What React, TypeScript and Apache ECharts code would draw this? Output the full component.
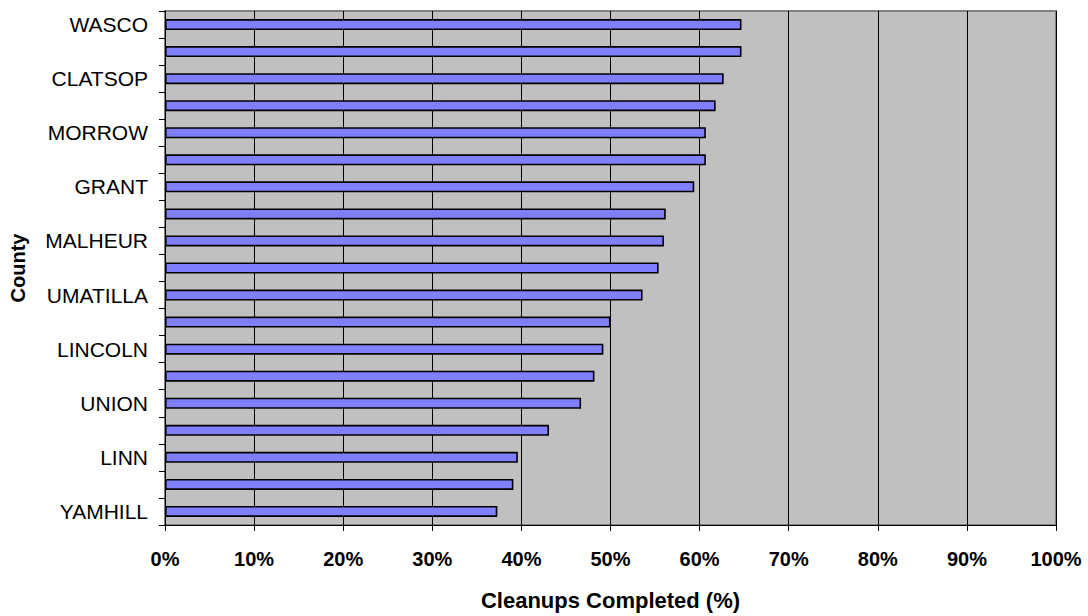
import React, { useEffect, useRef } from "react";
import * as echarts from "echarts";

const counties: string[] = [
  "WASCO", "", "CLATSOP", "", "MORROW", "", "GRANT", "", "MALHEUR", "",
  "UMATILLA", "", "LINCOLN", "", "UNION", "", "LINN", "", "YAMHILL",
];
const completedPct: number[] = [
  64.7, 64.7, 62.7, 61.8, 60.7, 60.7, 59.4, 56.2, 56.0, 55.4,
  53.6, 50.0, 49.2, 48.2, 46.7, 43.1, 39.6, 39.1, 37.3,
];
const xTicks: number[] = [0, 10, 20, 30, 40, 50, 60, 70, 80, 90, 100];

export default function App() {
  const ref = useRef<HTMLDivElement>(null);
  useEffect(() => {
    if (!ref.current) return;
    const chart = echarts.init(ref.current, undefined, { renderer: "svg" });
    const font = "Liberation Sans, Arial, sans-serif";
    chart.setOption({
      animation: false,
      backgroundColor: "#ffffff",
      grid: {
        left: 163,
        right: 32,
        top: 11,
        bottom: 87,
        show: true,
        backgroundColor: "#C0C0C0",
        borderColor: "#808080",
        borderWidth: 2,
        containLabel: false,
      },
      xAxis: {
        type: "value",
        min: xTicks[0],
        max: xTicks[xTicks.length - 1],
        interval: 10,
        name: "Cleanups Completed (%)",
        nameLocation: "middle",
        nameGap: 64,
        nameTextStyle: { fontFamily: font, fontWeight: "bold", fontSize: 22, color: "#000" },
        axisLine: { show: true, lineStyle: { color: "#000", width: 1 } },
        axisTick: { show: true, length: 6, lineStyle: { color: "#000" } },
        axisLabel: {
          formatter: (v: number) => `${v}%`,
          fontFamily: font,
          fontWeight: "bold",
          fontSize: 20,
          color: "#000",
          margin: 24,
        },
        splitLine: { show: true, lineStyle: { color: "#000", width: 1 } },
      },
      yAxis: {
        type: "category",
        data: counties,
        inverse: true,
        name: "County",
        nameLocation: "middle",
        nameGap: 137,
        nameTextStyle: { fontFamily: font, fontWeight: "bold", fontSize: 20, color: "#000" },
        axisLine: { show: true, lineStyle: { color: "#000", width: 1 } },
        axisTick: { show: true, length: 6, interval: 0, lineStyle: { color: "#000" } },
        axisLabel: {
          interval: 0,
          fontFamily: font,
          fontSize: 21,
          color: "#000",
          margin: 17,
        },
        splitLine: { show: false },
      },
      series: [
        {
          type: "bar",
          data: completedPct,
          barWidth: 11,
          itemStyle: { color: "#8080FF", borderColor: "#000", borderWidth: 1.6 },
        },
      ],
    });
    return () => chart.dispose();
  }, []);
  return (
    <div
      ref={ref}
      style={{ position: "absolute", left: 0, top: 0, width: 1088, height: 616 }}
    />
  );
}
